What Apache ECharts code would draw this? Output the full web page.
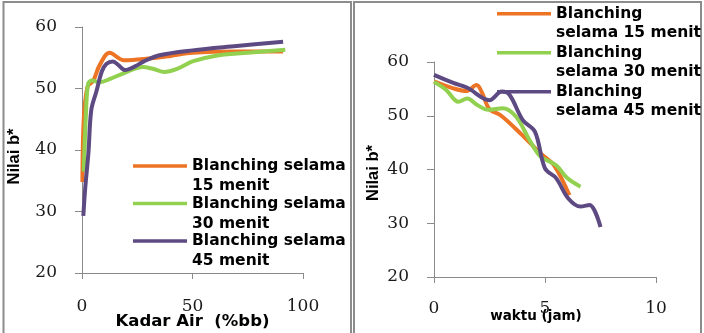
<!DOCTYPE html>
<html>
<head>
<meta charset="utf-8">
<script src="https://cdn.jsdelivr.net/npm/echarts@6/dist/echarts.min.js"></script>
<style>
html,body{margin:0;padding:0;background:#fff;}
#c{width:704px;height:333px;}
</style>
</head>
<body>
<div id="c"></div>
<script>
// ---- data ----
const seriesNames = ['Blanching selama 15 menit', 'Blanching selama 30 menit', 'Blanching selama 45 menit'];
const colors = ['#EC7424', '#92D050', '#5E4A82'];

// Left chart: Kadar Air (%bb) vs Nilai b*
const leftX15 = [0.2, 0.8, 2.5, 5, 8, 12.5, 19, 28, 40, 50, 70, 91];
const leftY15 = [34.8, 45, 50.3, 51.2, 53.8, 55.8, 54.6, 54.8, 55.3, 55.8, 56.0, 56.0];
const leftX30 = [0.8, 1.8, 2.8, 4.5, 8, 13, 19, 27.5, 32, 37, 43, 50, 60, 75, 92];
const leftY30 = [36.5, 46, 50.8, 51.3, 51.0, 51.6, 52.5, 53.5, 53.2, 52.7, 53.2, 54.4, 55.3, 55.8, 56.3];
const leftX45 = [0.6, 1.5, 2.9, 4.2, 6.5, 9, 11, 14, 16.5, 19.5, 24, 28, 35, 50, 70, 91];
const leftY45 = [29.3, 34, 39.5, 46.5, 49.5, 52.8, 54, 54.4, 53.8, 53.0, 53.6, 54.4, 55.4, 56.2, 56.9, 57.6];

// Right chart: waktu (jam) vs Nilai b*
const rightX15 = [0, 0.87, 1.47, 1.92, 2.15, 2.5, 3.0, 3.9, 4.8, 5.4, 6.1];
const rightY15 = [56.4, 55.1, 54.6, 55.7, 54.4, 51.2, 50.1, 46.7, 43.0, 40.8, 35.2];
const rightX30 = [0, 0.55, 1.1, 1.5, 1.95, 2.45, 3.1, 3.7, 4.3, 4.8, 5.5, 6.0, 6.6];
const rightY30 = [56.3, 54.8, 52.6, 53.2, 52.0, 51.1, 51.4, 49.8, 45.5, 42.4, 40.8, 38.4, 36.8];
const rightX45 = [0, 0.87, 1.5, 2.5, 3.05, 3.4, 4.0, 4.55, 5.0, 5.5, 6.05, 6.6, 7.0, 7.5];
const rightY45 = [57.6, 56.1, 55.2, 52.9, 54.5, 53.9, 49.2, 47.0, 40.2, 38.4, 34.6, 33.1, 33.4, 29.3];

const yTicks = {min: 20, max: 60, interval: 10};
const leftXTicks = {min: 0, max: 100, interval: 50};
const rightXTicks = {min: 0, max: 10, interval: 5};

// ---- build ----
function pairs(xs, ys) { return xs.map((x, i) => [x, ys[i]]); }

const axisColor = '#8a8a8a';
const tickFont = {fontFamily: 'DejaVu Serif', fontSize: 17, color: '#1a1a1a'};

function xAxis(gridIndex, t, name, nameGap, nameStyle, labelMargin) {
  return {
    type: 'value', gridIndex, min: t.min, max: t.max, interval: t.interval,
    name, nameLocation: 'middle', nameGap, nameTextStyle: nameStyle, nameMoveOverlap: false,
    axisLine: {show: true, lineStyle: {color: axisColor, width: 1}},
    axisTick: {show: true, inside: false, length: 6, lineStyle: {color: axisColor}},
    splitLine: {show: false},
    axisLabel: Object.assign({margin: labelMargin}, tickFont)
  };
}
function yAxis(gridIndex, nameGap, namePad) {
  return {
    type: 'value', gridIndex, min: yTicks.min, max: yTicks.max, interval: yTicks.interval,
    name: 'Nilai b*', nameLocation: 'middle', nameGap, nameMoveOverlap: false,
    nameTextStyle: {fontFamily: 'Liberation Sans', fontWeight: 'bold', fontSize: 16.5, color: '#000', padding: namePad},
    axisLine: {show: true, lineStyle: {color: axisColor, width: 1}},
    axisTick: {show: true, inside: false, length: 7, lineStyle: {color: axisColor}},
    splitLine: {show: false},
    axisLabel: Object.assign({margin: 25}, tickFont)
  };
}

function lineSeries(i, xi, yi, data) {
  return {
    name: seriesNames[i], type: 'line', xAxisIndex: xi, yAxisIndex: yi,
    data, smooth: 0.35, symbol: 'none', showSymbol: false,
    lineStyle: {color: colors[i], width: 4}, itemStyle: {color: colors[i]},
    z: 2 + i
  };
}

const legendText = {fontFamily: 'DejaVu Sans', fontWeight: 'bold', fontSize: 15.5, color: '#000'};

const option = {
  animation: false,
  backgroundColor: '#fff',
  grid: [
    {left: 82, top: 27, width: 221, height: 246, outerBoundsMode: 'none', containLabel: false},
    {left: 434, top: 62, width: 222, height: 215, outerBoundsMode: 'none', containLabel: false}
  ],
  xAxis: [
    xAxis(0, leftXTicks, 'Kadar Air  (%bb)', 40.5,
      {fontFamily: 'DejaVu Sans', fontWeight: 'bold', fontSize: 16.5, color: '#000'}, 25.5),
    xAxis(1, rightXTicks, 'waktu (jam)', 32,
      {fontFamily: 'DejaVu Sans', fontWeight: 'bold', fontSize: 13.5, color: '#000', padding: [0, 18, 0, 0]}, 23.5)
  ],
  yAxis: [yAxis(0, 59, [0, 13, 0, 0]), yAxis(1, 52, [0, 7, 0, 0])],
  legend: [
    {
      orient: 'vertical', left: 133, top: 136, padding: 0,
      itemWidth: 54, itemHeight: 3.5, itemGap: -22.5, icon: 'rect',
      selectedMode: false,
      data: seriesNames,
      formatter: function (n) { return '\n' + n.replace(' selama ', ' selama\n'); },
      textStyle: Object.assign({lineHeight: 20}, legendText)
    },
    {
      orient: 'vertical', left: 497, top: -15.5, padding: 0,
      itemWidth: 54, itemHeight: 3.5, itemGap: -19.5, icon: 'rect',
      selectedMode: false,
      data: seriesNames,
      formatter: function (n) { return '\n' + n.replace('Blanching ', 'Blanching\n'); },
      textStyle: Object.assign({lineHeight: 19.5}, legendText)
    }
  ],
  graphic: [
    {type: 'rect', shape: {x: 3.5, y: 2, width: 347.5, height: 345}, style: {fill: 'none', stroke: '#8c8c8c', lineWidth: 2}, silent: true, z: 0},
    {type: 'rect', shape: {x: 354, y: 2, width: 347, height: 345}, style: {fill: 'none', stroke: '#8c8c8c', lineWidth: 2}, silent: true, z: 0}
  ],
  series: [
    lineSeries(0, 0, 0, pairs(leftX15, leftY15)),
    lineSeries(1, 0, 0, pairs(leftX30, leftY30)),
    lineSeries(2, 0, 0, pairs(leftX45, leftY45)),
    lineSeries(0, 1, 1, pairs(rightX15, rightY15)),
    lineSeries(1, 1, 1, pairs(rightX30, rightY30)),
    lineSeries(2, 1, 1, pairs(rightX45, rightY45))
  ]
};

const chart = echarts.init(document.getElementById('c'), null, {renderer: 'canvas'});
chart.setOption(option);
</script>
</body>
</html>
